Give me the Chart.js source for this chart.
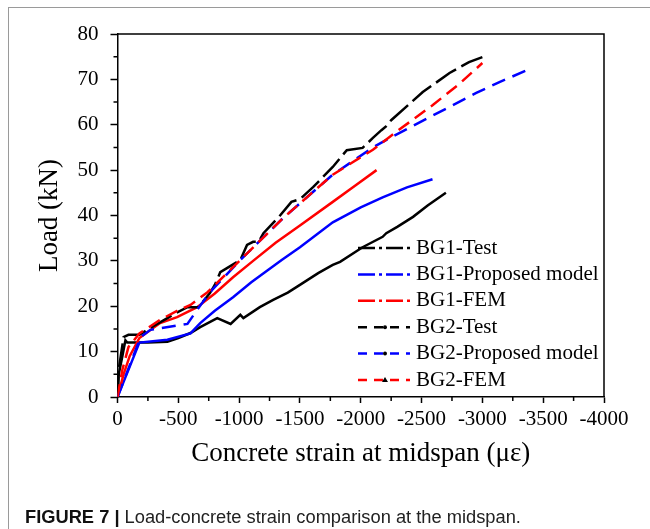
<!DOCTYPE html>
<html>
<head>
<meta charset="utf-8">
<script src="https://cdn.jsdelivr.net/npm/chart.js@4.4.0/dist/chart.umd.min.js"></script>
<style>
  html, body { margin: 0; padding: 0; background: #fff; }
  #wrap { position: relative; width: 650px; height: 529px; overflow: hidden; }
  #frame { position: absolute; left: 8px; top: 7px; width: 700px; height: 600px;
           border-left: 1.5px solid #9a9a9a; border-top: 1.5px solid #9a9a9a; }
  #chart { position: absolute; left: 0; top: 0; }
  #caption { position: absolute; left: 25px; top: 507px; line-height: 20px;
             font-family: 'Liberation Sans', Arial, sans-serif; font-size: 18.3px;
             color: #222; white-space: nowrap; }
  #caption b { color: #111; }
</style>
</head>
<body>
<div id="wrap">
  <div id="frame"></div>
  <canvas id="chart" width="650" height="529"></canvas>
  <div id="caption"><b>FIGURE 7 |</b> Load-concrete strain comparison at the midspan.</div>
</div>
<script>
// axis ticks
const xTicks = [0, -500, -1000, -1500, -2000, -2500, -3000, -3500, -4000];
const xTickLabels = ['0', '-500', '-1000', '-1500', '-2000', '-2500', '-3000', '-3500', '-4000'];
const yTicks = [0, 10, 20, 30, 40, 50, 60, 70, 80];
const yTickLabels = ['0', '10', '20', '30', '40', '50', '60', '70', '80'];

// BG1 - Test
const bg1TestStrain = [0, -10, -40, -65, -80, -250, -410, -500, -600, -680, -820, -930, -1010, -1035, -1170, -1280, -1400, -1500, -1650, -1770, -1830, -2015, -2180, -2210, -2300, -2430, -2550, -2700];
const bg1TestLoad   = [0, 5, 9, 12.5, 12, 12, 12.2, 13, 14.1, 15.4, 17.4, 16.1, 18.1, 17.4, 19.8, 21.4, 23, 24.7, 27.3, 29.1, 29.8, 33, 35.3, 36.1, 37.5, 39.7, 42.2, 45];

// BG1 - Proposed model
const bg1ModelStrain = [0, -180, -410, -600, -680, -800, -950, -1100, -1350, -1500, -1770, -2000, -2180, -2380, -2590];
const bg1ModelLoad   = [0, 12, 12.6, 14, 16.3, 19, 22, 25.3, 30.2, 33, 38.5, 41.8, 44, 46.2, 48];

// BG1 - FEM
const bg1FemStrain = [0, -50, -100, -180, -350, -490, -655, -800, -950, -1115, -1300, -1500, -1770, -1950, -2130];
const bg1FemLoad   = [0, 5, 9, 13, 16.3, 17.6, 19.8, 22.8, 26.4, 30, 34, 37.8, 43, 46.5, 50];

// BG2 - Test
const bg2TestStrain = [0, -10, -50, -90, -180, -270, -410, -480, -575, -665, -760, -800, -845, -900, -1010, -1065, -1115, -1160, -1200, -1340, -1430, -1500, -1610, -1770, -1885, -2015, -2100, -2170, -2210, -2250, -2510, -2730, -2890, -3000];
const bg2TestLoad   = [0, 6, 13.2, 13.7, 13.7, 15.2, 17.4, 18.5, 19.8, 19.8, 22.9, 24.7, 27.5, 28.4, 30.2, 33.5, 34.2, 34.2, 36.1, 40.1, 43, 43.6, 46.3, 50.7, 54.4, 54.9, 57.1, 58.8, 59.7, 61, 67.2, 71.4, 73.8, 74.9];

// BG2 - Proposed model
const bg2ModelStrain = [0, -190, -270, -575, -655, -760, -1010, -1360, -1770, -2100, -2240, -2590, -2950, -3140, -3400];
const bg2ModelLoad   = [0, 13.2, 14.8, 16.1, 19.2, 23.1, 30.2, 39.4, 49, 55, 57.1, 62, 67, 69.4, 72.4];

// BG2 - FEM
const bg2FemStrain = [0, -40, -90, -180, -350, -490, -600, -740, -1010, -1360, -1770, -2100, -2320, -2590, -2810, -3000];
const bg2FemLoad   = [0, 6, 11, 14, 17, 19, 20.3, 23.1, 30.2, 39.4, 49, 54.5, 59, 64.3, 69, 73.6];

const serif = "'Liberation Serif', 'Times New Roman', serif";
const toPts = (xs, ys) => xs.map((x, i) => ({ x: x, y: ys[i] }));

const series = [
  { label: 'BG1-Test', data: toPts(bg1TestStrain, bg1TestLoad), color: '#000000', dash: [], legendDash: [17, 4, 3, 4], marker: null },
  { label: 'BG1-Proposed model', data: toPts(bg1ModelStrain, bg1ModelLoad), color: '#0000ff', dash: [], legendDash: [17, 4, 3, 4], marker: null },
  { label: 'BG1-FEM', data: toPts(bg1FemStrain, bg1FemLoad), color: '#ff0000', dash: [], legendDash: [17, 4, 3, 4], marker: null },
  { label: 'BG2-Test', data: toPts(bg2TestStrain, bg2TestLoad), color: '#000000', dash: [24, 6], legendDash: [9, 7], marker: 'dot' },
  { label: 'BG2-Proposed model', data: toPts(bg2ModelStrain, bg2ModelLoad), color: '#0000ff', dash: [14, 8], legendDash: [9, 7], marker: 'dot' },
  { label: 'BG2-FEM', data: toPts(bg2FemStrain, bg2FemLoad), color: '#ff0000', dash: [13, 7], legendDash: [9, 7], marker: 'tri' }
];

// frame, minor ticks and legend drawn on top of the chart
const extras = {
  id: 'extras',
  afterDraw(chart) {
    const ctx = chart.ctx;
    const a = chart.chartArea;
    const xs = chart.scales.x, ys = chart.scales.y;
    ctx.save();
    ctx.strokeStyle = '#000';
    ctx.lineWidth = 1.5;
    ctx.beginPath();
    ctx.moveTo(a.left, a.top); ctx.lineTo(a.right, a.top); ctx.lineTo(a.right, a.bottom);
    // minor ticks
    for (let v = 5; v < 80; v += 10) {
      const py = ys.getPixelForValue(v);
      ctx.moveTo(a.left - 4, py); ctx.lineTo(a.left, py);
    }
    for (let v = -250; v > -4000; v -= 500) {
      const px = xs.getPixelForValue(v);
      ctx.moveTo(px, a.bottom); ctx.lineTo(px, a.bottom + 4);
    }
    ctx.stroke();

    // legend
    const x0 = 358, x1 = 410, tx = 416;
    ctx.font = '21px ' + serif;
    ctx.textBaseline = 'middle';
    ctx.textAlign = 'left';
    series.forEach((s, i) => {
      const y = 248 + i * 26.4;
      ctx.strokeStyle = s.color;
      ctx.lineWidth = 2.5;
      ctx.setLineDash(s.legendDash);
      ctx.beginPath(); ctx.moveTo(x0, y); ctx.lineTo(x1, y); ctx.stroke();
      ctx.setLineDash([]);
      if (s.marker === 'dot') {
        ctx.fillStyle = '#000';
        ctx.beginPath(); ctx.arc(385, y, 2, 0, Math.PI * 2); ctx.fill();
      } else if (s.marker === 'tri') {
        ctx.fillStyle = '#000';
        ctx.beginPath(); ctx.moveTo(385, y - 3); ctx.lineTo(388, y + 2); ctx.lineTo(382, y + 2); ctx.closePath(); ctx.fill();
      }
      ctx.fillStyle = '#000';
      ctx.fillText(s.label, tx, y);
    });
    ctx.restore();
  }
};

new Chart(document.getElementById('chart'), {
  type: 'scatter',
  data: {
    datasets: series.map((s, i) => ({
      label: s.label,
      data: s.data,
      showLine: true,
      borderColor: s.color,
      backgroundColor: s.color,
      borderWidth: 2.5,
      borderDash: s.dash,
      pointRadius: 0,
      tension: 0,
      order: series.length - i
    }))
  },
  options: {
    responsive: false,
    animation: false,
    layout: { padding: { left: 34, top: 34, right: 46, bottom: 59 } },
    plugins: { legend: { display: false }, tooltip: { enabled: false } },
    scales: {
      x: {
        type: 'linear', min: -4000, max: 0, reverse: true,
        afterBuildTicks: s => { s.ticks = xTicks.map(v => ({ value: v })); },
        afterFit: s => { s.height = 73; },
        ticks: {
          color: '#000', padding: 4, maxRotation: 0, autoSkip: false,
          font: { family: serif, size: 21 },
          callback: v => xTickLabels[xTicks.indexOf(v)]
        },
        grid: { drawOnChartArea: false, tickLength: 6, tickColor: '#000', tickWidth: 1.5 },
        border: { color: '#000', width: 1.5 },
        title: { display: true, text: 'Concrete strain at midspan (με)', color: '#000',
                 font: { family: serif, size: 27 }, padding: 0 }
      },
      y: {
        type: 'linear', min: 0, max: 80,
        afterBuildTicks: s => { s.ticks = yTicks.map(v => ({ value: v })); },
        afterFit: s => { s.width = 83.5; },
        ticks: {
          color: '#000', padding: 12,
          font: { family: serif, size: 21 },
          callback: v => yTickLabels[yTicks.indexOf(v)]
        },
        grid: { drawOnChartArea: false, tickLength: 7, tickColor: '#000', tickWidth: 1.5 },
        border: { color: '#000', width: 1.5 },
        title: { display: true, text: 'Load (kN)', color: '#000',
                 font: { family: serif, size: 27 }, padding: 0 }
      }
    }
  },
  plugins: [extras]
});
</script>
</body>
</html>
